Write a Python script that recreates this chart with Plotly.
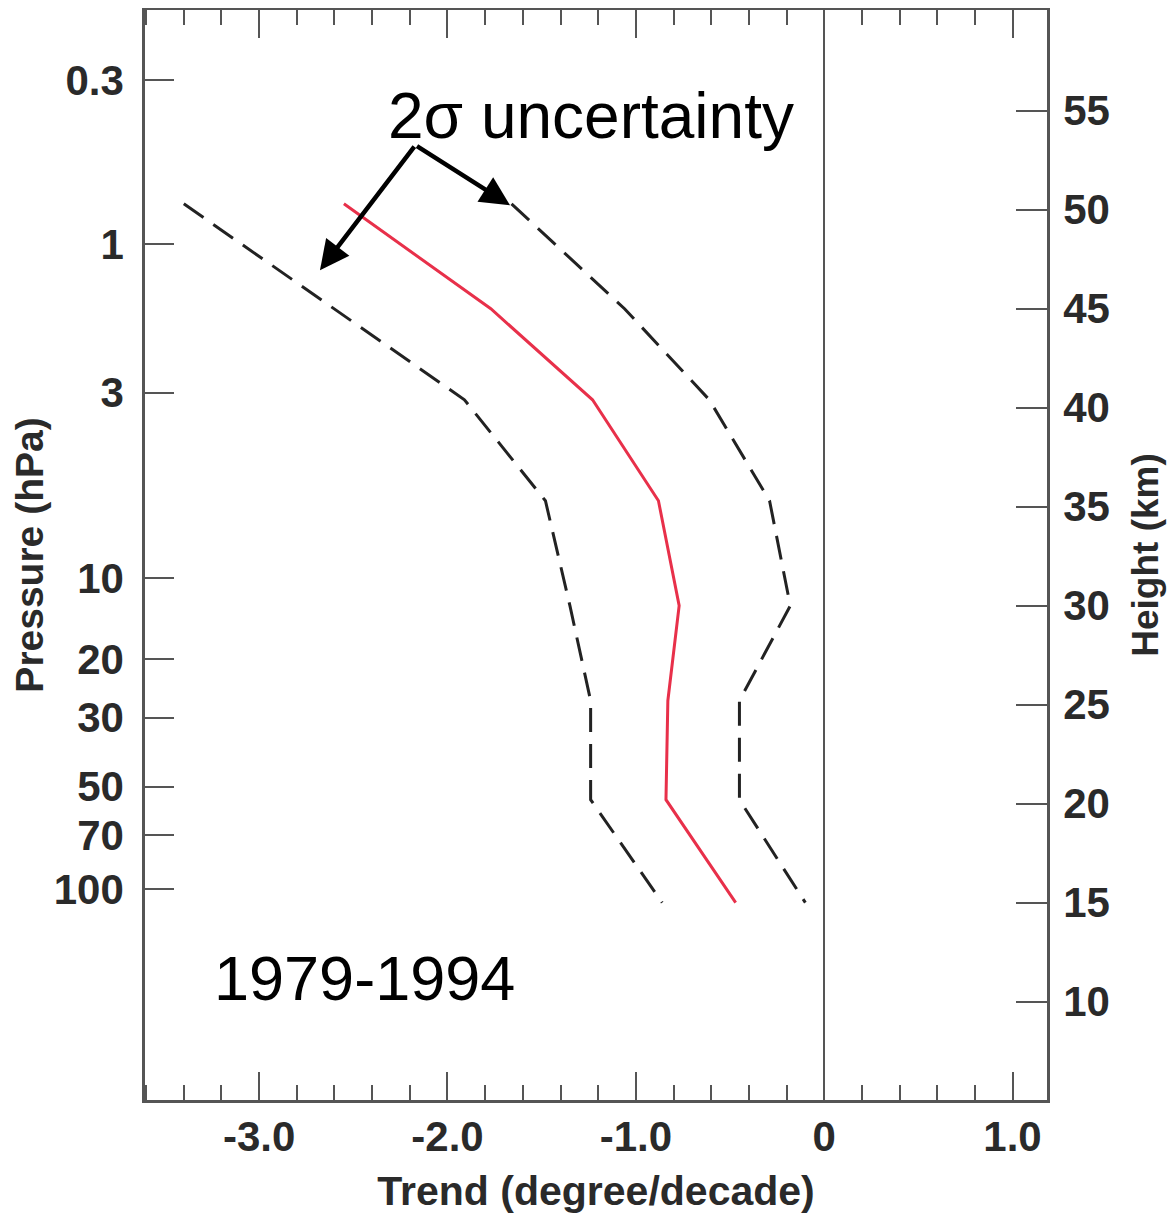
import plotly.graph_objects as go

# ---- data ----
height_km = [50.3, 45.0, 40.4, 35.3, 30.0, 25.2, 20.2, 15.0]
trend = [-2.55, -1.77, -1.23, -0.88, -0.77, -0.83, -0.84, -0.47]
lower_2sigma = [-3.40, -2.60, -1.91, -1.48, -1.35, -1.24, -1.24, -0.86]
upper_2sigma = [-1.66, -1.06, -0.61, -0.29, -0.18, -0.45, -0.45, -0.10]

pressure_labels = ["0.3", "1", "3", "10", "20", "30", "50", "70", "100"]
pressure_height_km = [56.54, 48.25, 40.76, 31.38, 27.31, 24.34, 20.86, 18.42, 15.68]
height_ticks = [10, 15, 20, 25, 30, 35, 40, 45, 50, 55]
x_ticks = [-3, -2, -1, 0, 1]
x_ticklabels = ["-3.0", "-2.0", "-1.0", "0", "1.0"]

arrow_tail = (-2.17, 53.26)
arrow_tips = [(-2.677, 46.95), (-1.668, 50.23)]

X_RANGE = [-3.606, 1.183]
Y_RANGE = [5.03, 60.09]

FONT = "Liberation Sans, Arial, Helvetica, sans-serif"
AX = "#555555"
LBL = "#2a2a2a"
TICKFONT = dict(family=FONT, size=42, color=LBL, weight="bold")

fig = go.Figure()
fig.add_trace(go.Scatter(x=lower_2sigma, y=height_km, mode="lines",
                         line=dict(color="#222222", width=3, dash="24px,12px"),
                         showlegend=False, hoverinfo="skip"))
fig.add_trace(go.Scatter(x=upper_2sigma, y=height_km, mode="lines", yaxis="y2",
                         line=dict(color="#222222", width=3, dash="24px,12px"),
                         showlegend=False, hoverinfo="skip"))
fig.add_trace(go.Scatter(x=trend, y=height_km, mode="lines",
                         line=dict(color="#e8304a", width=3),
                         showlegend=False))

annotations = []
for tx, ty in arrow_tips:
    annotations.append(dict(x=tx, y=ty, xref="x", yref="y",
                            ax=arrow_tail[0], ay=arrow_tail[1], axref="x", ayref="y",
                            text="", showarrow=True, arrowhead=2, arrowsize=1.3,
                            arrowwidth=4.5, arrowcolor="black"))
annotations.append(dict(x=-1.24, y=54.75, xref="x", yref="y", text="2σ uncertainty",
                        showarrow=False, font=dict(family=FONT, size=64, color="black"),
                        xanchor="center", yanchor="middle"))
annotations.append(dict(x=-2.44, y=11.2, xref="x", yref="y", text="1979-1994",
                        showarrow=False, font=dict(family=FONT, size=63, color="black"),
                        xanchor="center", yanchor="middle"))

# the page adds an 8px body margin, so the plot area is offset to land on the reference
fig.update_layout(
    width=1175, height=1215,
    margin=dict(l=137, r=136, t=2, b=123, autoexpand=False),
    paper_bgcolor="white", plot_bgcolor="white",
    annotations=annotations,
    xaxis=dict(
        range=X_RANGE, tickvals=x_ticks, ticktext=x_ticklabels,
        ticks="inside", ticklen=28, tickwidth=2, tickcolor=AX,
        minor=dict(dtick=0.2, tick0=0, ticks="inside", ticklen=15, tickwidth=2, tickcolor=AX),
        showline=True, linecolor=AX, linewidth=2.5, mirror="ticks",
        showgrid=False, zeroline=True, zerolinecolor=AX, zerolinewidth=2,
        tickfont=TICKFONT,
        ticklabelstandoff=-2,
        title=dict(text="Trend (degree/decade)",
                   font=dict(family=FONT, size=41, color=LBL, weight="bold"), standoff=18),
    ),
    yaxis=dict(
        range=Y_RANGE, tickvals=pressure_height_km, ticktext=pressure_labels,
        ticks="inside", ticklen=29, tickwidth=2, tickcolor=AX,
        showline=True, linecolor=AX, linewidth=2.5, mirror=False,
        showgrid=False, zeroline=False,
        tickfont=TICKFONT,
        ticklabelstandoff=10,
        title=dict(text="Pressure (hPa)",
                   font=dict(family=FONT, size=39, color=LBL, weight="bold"), standoff=6),
    ),
    yaxis2=dict(
        range=Y_RANGE, overlaying="y", side="right", anchor="x",
        tickvals=height_ticks, ticks="inside", ticklen=31, tickwidth=2, tickcolor=AX,
        showline=True, linecolor=AX, linewidth=2.5,
        showgrid=False, zeroline=False,
        tickfont=TICKFONT,
        ticklabelstandoff=5,
        title=dict(text="Height (km)",
                   font=dict(family=FONT, size=37, color=LBL, weight="bold"), standoff=24),
    ),
)

fig.write_html("out.html")
